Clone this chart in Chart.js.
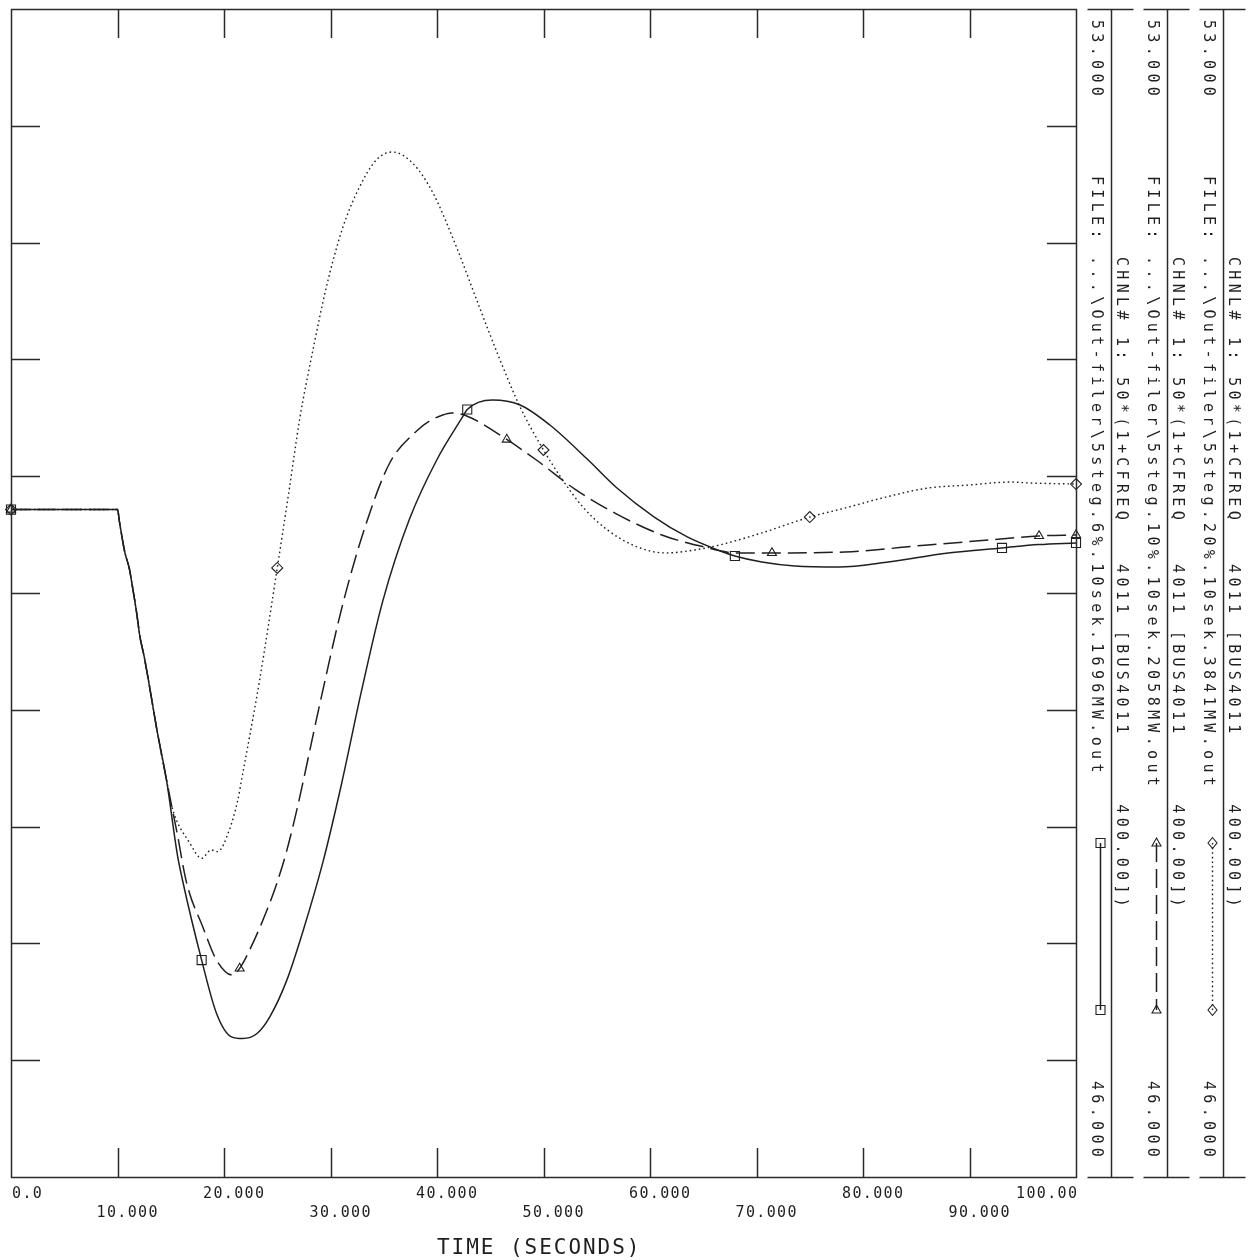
<!DOCTYPE html>
<html>
<head>
<meta charset="utf-8">
<style>
html,body{margin:0;padding:0;background:#fff;overflow:hidden;}
#c{display:block;}
</style>
<script src="https://cdn.jsdelivr.net/npm/chart.js@4.4.0/dist/chart.umd.min.js"></script>
</head>
<body>
<canvas id="c" width="1253" height="1260" style="width:1253px;height:1260px"></canvas>
<script>
// ---------------- data ----------------
const xTickValues = [0,10,20,30,40,50,60,70,80,90,100];
const xTickLabels = ['0.0','10.000','20.000','30.000','40.000','50.000','60.000','70.000','80.000','90.000','100.00'];
const yTickValues = [46.7,47.4,48.1,48.8,49.5,50.2,50.9,51.6,52.3];
const axisTitle = 'TIME (SECONDS)';
const legendTop = '53.000';
const legendBottom = '46.000';
const legendFiles = [
  'FILE: ...\\Out-filer\\5steg.6%.10sek.1696MW.out',
  'FILE: ...\\Out-filer\\5steg.10%.10sek.2058MW.out',
  'FILE: ...\\Out-filer\\5steg.20%.10sek.3841MW.out'
];
const legendChannel = 'CHNL# 1: 50*(1+CFREQ   4011 [BUS4011     400.00])';

// 6% step (solid, squares)
const time6 = [0,9.5,10.0,10.2,10.7,11.1,11.4,11.8,12.1,12.5,12.9,13.7,14.6,15.6,16.1,17.9,19.3,20.7,21.75,23.1,24.3,25.9,27.4,29.3,31.05,32.9,34.9,37.4,40.0,42.4,42.84,45.2,47.8,50.6,54.2,56.9,60.4,63.5,66.6,67.97,70.5,73.6,77.8,82.2,88.0,93.05,96.5,100];
const freq6 = [50,50,50,49.92,49.74,49.65,49.54,49.38,49.24,49.12,48.98,48.68,48.38,47.94,47.78,47.30,46.98,46.84,46.83,46.86,46.96,47.18,47.47,47.89,48.36,48.91,49.45,49.94,50.30,50.555,50.60,50.657,50.627,50.507,50.297,50.129,49.955,49.836,49.752,49.722,49.686,49.662,49.656,49.685,49.74,49.77,49.79,49.80];
const marks6 = [0,17.9,42.84,67.97,93.05,100];

// 10% step (dashed, triangles)
const time10 = [0,9.5,10.0,10.2,10.7,11.1,11.4,11.8,12.1,12.5,12.9,13.7,14.6,15.6,16.5,18.0,19.3,20.8,21.47,22.7,24.0,24.94,25.88,26.91,28.98,31.14,33.4,35.56,38.09,39.31,40.54,41.38,42.79,46.55,49.46,52.94,56.88,61.11,65.06,68.16,71.45,78.3,86.1,91.9,96.53,100];
const freq10 = [50,50,50,49.92,49.74,49.65,49.54,49.38,49.24,49.12,48.98,48.68,48.38,48.06,47.76,47.50,47.30,47.21,47.25,47.40,47.594,47.756,47.953,48.22,48.83,49.43,49.926,50.279,50.471,50.531,50.567,50.579,50.561,50.42,50.291,50.123,49.973,49.848,49.776,49.74,49.74,49.746,49.788,49.818,49.842,49.848];
const marks10 = [0,21.47,46.55,71.45,96.53,100];

// 20% step (dotted, diamonds)
const time20 = [0,9.5,10.0,10.2,10.7,11.1,11.4,11.8,12.1,12.5,12.9,13.7,14.6,15.1,16.8,17.9,18.8,19.4,20.5,21.3,21.65,23.35,25.0,26.16,27.1,28.3,29.6,31.1,32.7,34.3,35.8,37.7,39.6,41.85,44.0,45.9,47.8,50.0,51.8,53.7,56.0,58.8,61.5,64.2,66.55,70.5,75.0,78.3,82.15,86.1,89.95,93.8,95.8,100];
const freq20 = [50,50,50,49.92,49.74,49.65,49.54,49.38,49.24,49.12,48.98,48.68,48.38,48.22,48.00,47.91,47.96,47.95,48.08,48.26,48.38,48.98,49.65,50.135,50.54,50.94,51.33,51.68,51.93,52.095,52.143,52.077,51.90,51.57,51.21,50.90,50.615,50.357,50.177,50.015,49.878,49.776,49.74,49.758,49.788,49.86,49.955,50.009,50.075,50.129,50.147,50.165,50.159,50.153];
const marks20 = [0,25.0,50.0,75.0,100];

// ---------------- chart ----------------
const INK = '#1f1f1f';
const FONT = '"DejaVu Sans Mono", "Liberation Mono", monospace';

function toPoints(ts, vs){ return ts.map((t,i)=>({x:t, y:vs[i]})); }
function radii(ts, marks, r){ return ts.map(t => marks.some(m => Math.abs(m-t) < 1e-6) ? r : 0); }

function spaced(ctx, s, x, y, pitch){
  for (let i=0;i<s.length;i++) ctx.fillText(s[i], x + i*pitch, y);
}
function rotText(ctx, s, cx, y0, pitch){
  ctx.save();
  ctx.translate(cx, y0);
  ctx.rotate(Math.PI/2);
  ctx.textBaseline = 'middle';
  ctx.textAlign = 'left';
  for (let i=0;i<s.length;i++) ctx.fillText(s[i], i*pitch, 0);
  ctx.restore();
}
function marker(ctx, kind, x, y){
  ctx.beginPath();
  if (kind === 'rect') { ctx.rect(x-4.5, y-4.5, 9, 9); }
  else if (kind === 'triangle') { ctx.moveTo(x, y-5); ctx.lineTo(x+4.5, y+3); ctx.lineTo(x-4.5, y+3); ctx.closePath(); }
  else { ctx.moveTo(x, y-5.5); ctx.lineTo(x+4.5, y); ctx.lineTo(x, y+5.5); ctx.lineTo(x-4.5, y); ctx.closePath(); }
  ctx.stroke();
}

const seriesStyles = [
  {dash:[], marker:'rect', width:1.5},
  {dash:[19,7], marker:'triangle', width:1.5},
  {dash:[1.6,3], marker:'rectRot', width:1.4}
];

const framePlugin = {
  id: 'frame',
  afterDraw(chart){
    const {ctx, chartArea:a, scales:{x, y}} = chart;
    ctx.save();
    ctx.strokeStyle = '#2a2a2a';
    ctx.lineWidth = 1.5;
    ctx.setLineDash([]);
    ctx.strokeRect(a.left+0.5, a.top+0.5, a.right-a.left, a.bottom-a.top);
    const TL = 29;
    ctx.beginPath();
    xTickValues.forEach(v => {
      if (v <= x.min || v >= x.max) return;
      const px = Math.round(x.getPixelForValue(v)) + 0.5;
      ctx.moveTo(px, a.top); ctx.lineTo(px, a.top+TL);
      ctx.moveTo(px, a.bottom); ctx.lineTo(px, a.bottom-TL);
    });
    yTickValues.forEach(v => {
      const py = Math.round(y.getPixelForValue(v)) + 0.5;
      ctx.moveTo(a.left, py); ctx.lineTo(a.left+TL, py);
      ctx.moveTo(a.right, py); ctx.lineTo(a.right-TL, py);
    });
    ctx.stroke();

    // x tick labels (two staggered rows)
    ctx.fillStyle = INK;
    ctx.font = '15px ' + FONT;
    ctx.textBaseline = 'alphabetic';
    ctx.textAlign = 'left';
    const lp = 10.4;
    xTickValues.forEach((v,i) => {
      const s = xTickLabels[i];
      const w = (s.length-1)*lp + 9;
      const px = x.getPixelForValue(v);
      let x0 = px - 21;
      x0 = Math.max(a.left+1, Math.min(a.right - w + 1, x0));
      const yb = (i % 2 === 0) ? 1198 : 1217;
      spaced(ctx, s, x0, yb, lp);
    });
    // axis title
    ctx.font = '21px ' + FONT;
    spaced(ctx, axisTitle, 437, 1254, 14.6);

    // legend columns
    for (let k=0;k<3;k++){
      const lx = 1111 + 56*k + 0.5;
      ctx.strokeStyle = '#2a2a2a';
      ctx.lineWidth = 1.5;
      ctx.setLineDash([]);
      ctx.beginPath();
      ctx.moveTo(lx-24, a.top+0.5); ctx.lineTo(lx+22, a.top+0.5);
      ctx.moveTo(lx-24, a.bottom+0.5); ctx.lineTo(lx+22, a.bottom+0.5);
      ctx.moveTo(lx, a.top); ctx.lineTo(lx, a.bottom);
      ctx.stroke();

      ctx.fillStyle = INK;
      ctx.font = '15px ' + FONT;
      const tx = lx - 16;
      const cx = lx + 9;
      const pitch = 13.35;
      rotText(ctx, legendTop, tx, 20, pitch);
      rotText(ctx, legendFiles[k], tx, 176, pitch);
      rotText(ctx, legendBottom, tx, 1081, pitch);
      rotText(ctx, legendChannel, cx, 257, pitch);

      // line sample
      const st = seriesStyles[k];
      const sx = lx - 11;
      ctx.strokeStyle = INK;
      ctx.lineWidth = st.width;
      ctx.setLineDash(st.dash);
      ctx.beginPath();
      ctx.moveTo(sx, 843); ctx.lineTo(sx, 1010);
      ctx.stroke();
      ctx.setLineDash([]);
      ctx.lineWidth = 1.1;
      marker(ctx, st.marker, sx, 843);
      marker(ctx, st.marker, sx, 1010);
    }
    ctx.restore();
  }
};

function ds(ts, vs, marks, k, r){
  const st = seriesStyles[k];
  return {
    data: toPoints(ts, vs),
    borderColor: INK,
    borderWidth: st.width,
    borderDash: st.dash,
    pointStyle: st.marker,
    pointRadius: radii(ts, marks, r),
    pointHoverRadius: 0,
    pointBorderColor: INK,
    pointBackgroundColor: 'rgba(0,0,0,0)',
    pointBorderWidth: 1.1,
    cubicInterpolationMode: 'monotone',
    fill: false,
    clip: false
  };
}

new Chart(document.getElementById('c'), {
  type: 'line',
  data: {
    datasets: [
      ds(time20, freq20, marks20, 2, 5.5),
      ds(time10, freq10, marks10, 1, 5.2),
      ds(time6, freq6, marks6, 0, 6.4)
    ]
  },
  options: {
    responsive: false,
    animation: false,
    devicePixelRatio: 1,
    events: [],
    layout: { padding: { left: 11, top: 9, right: 177, bottom: 83 } },
    scales: {
      x: { type: 'linear', min: 0, max: 100, display: false },
      y: { type: 'linear', min: 46, max: 53, display: false }
    },
    plugins: { legend: { display: false }, tooltip: { enabled: false } }
  },
  plugins: [framePlugin]
});
</script>
</body>
</html>
